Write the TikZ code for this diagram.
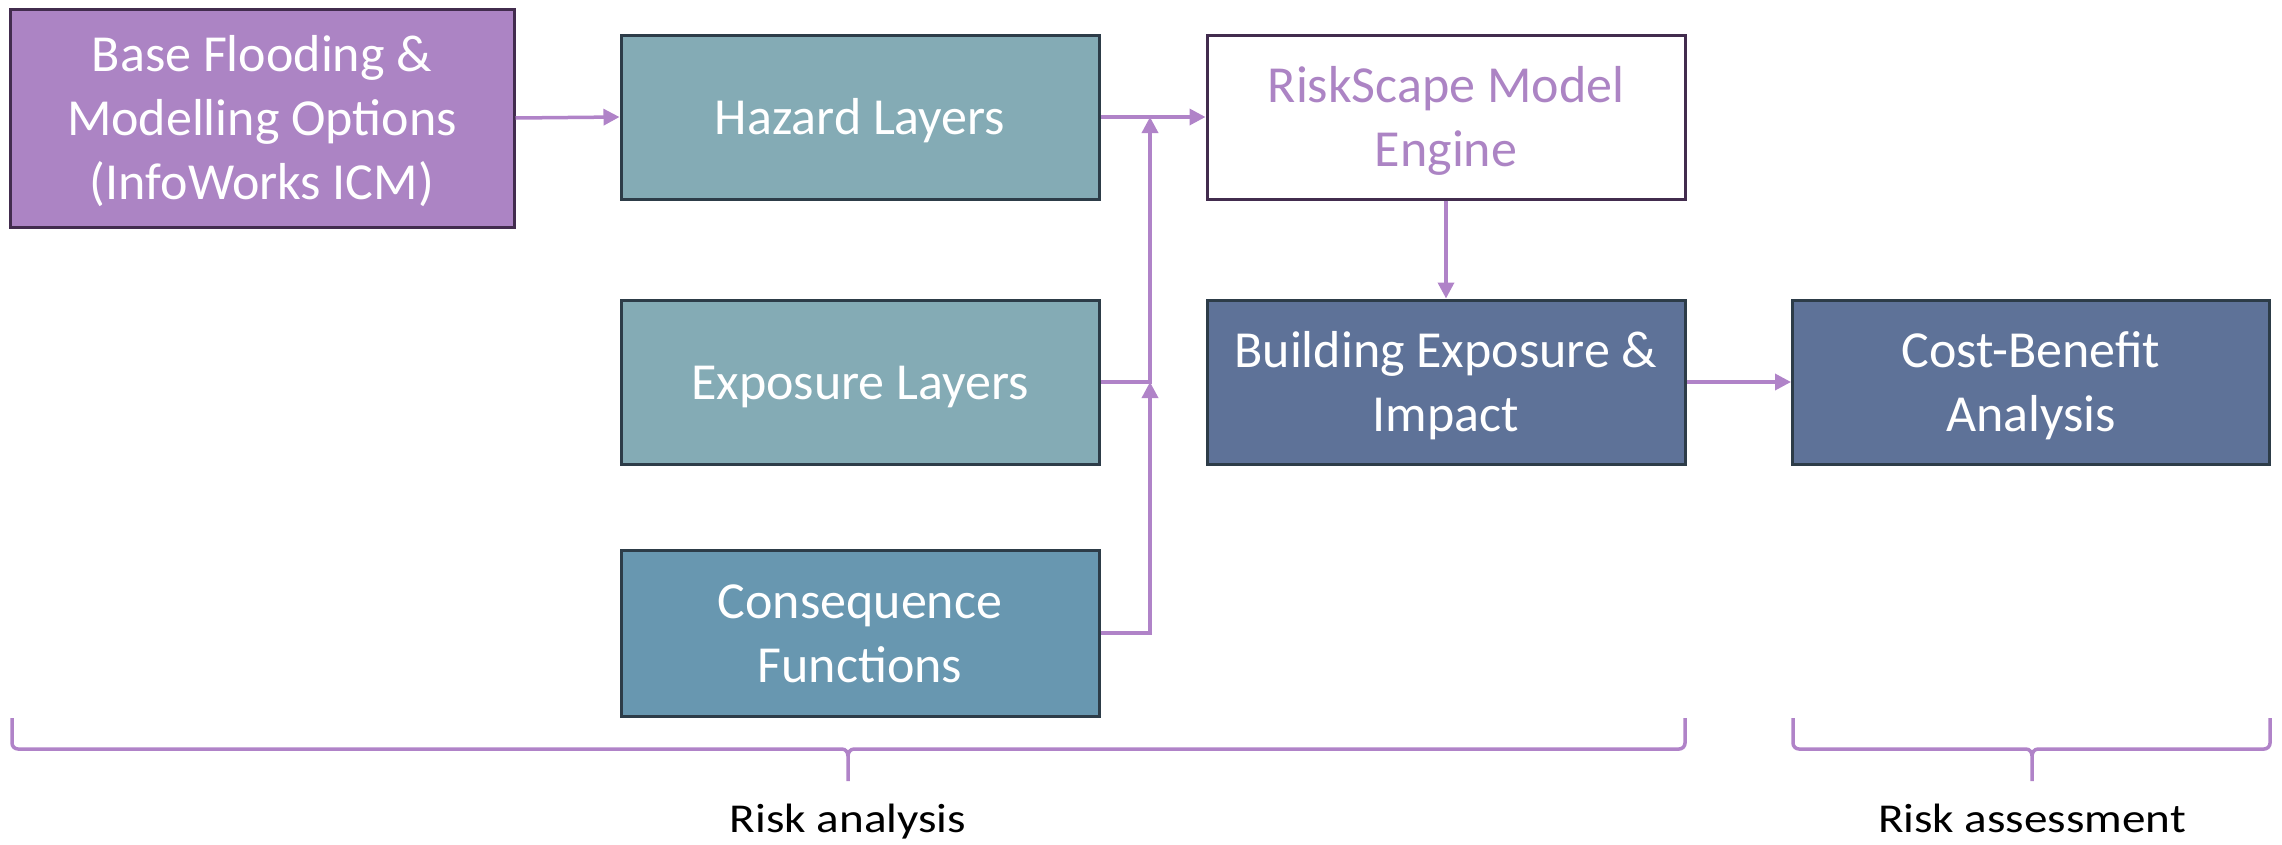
\documentclass[tikz,border=0pt]{standalone}
\usepackage{fontspec}
\usepackage{graphicx}
\setmainfont{Carlito}
\usetikzlibrary{arrows.meta}
\definecolor{cpurple}{RGB}{172,132,196}
\definecolor{cpurpledark}{RGB}{66,44,78}
\definecolor{cteal}{RGB}{132,171,181}
\definecolor{cteal2}{RGB}{104,151,176}
\definecolor{cblue}{RGB}{94,114,152}
\definecolor{cborder}{RGB}{45,60,72}
\definecolor{carrow}{RGB}{176,131,200}
\newcommand{\boxstrut}{\rule[-12pt]{0pt}{59pt}}
\tikzset{
  box/.style={draw=cborder, line width=3pt, text=white, align=center, inner sep=0pt,
    minimum width=478pt, minimum height=164pt,
    font=\fontsize{52}{64}\selectfont},
  arr/.style={draw=carrow, line width=3.5pt, -{Triangle[length=16pt,width=16pt]}},
  brace/.style={draw=carrow, line width=3.5pt},
  lbl/.style={anchor=base, font=\fontsize{41}{48}\selectfont, text=black, inner sep=0pt}
}
\begin{document}
\begin{tikzpicture}[x=1pt,y=-1pt]
\useasboundingbox (0,0) rectangle (2282,844);
\node[box, fill=cpurple, draw=cpurpledark, minimum width=504pt, minimum height=218pt] (base) at (262,118) {Base Flooding \&\boxstrut\\Modelling Options\boxstrut\\(InfoWorks ICM)\boxstrut};
\node[box, fill=cteal] (haz) at (860,117) {Hazard Layers\boxstrut};
\node[box, fill=white, draw=cpurpledark, text=cpurple] (rs) at (1446,117) {RiskScape Model\boxstrut\\Engine\boxstrut};
\node[box, fill=cteal] (exp) at (860,382) {Exposure Layers\boxstrut};
\node[box, fill=cblue] (bld) at (1446,382) {Building Exposure \&\boxstrut\\Impact\boxstrut};
\node[box, fill=cblue, minimum width=477pt] (cba) at (2031,382) {Cost-Benefit\boxstrut\\Analysis\boxstrut};
\node[box, fill=cteal2, minimum height=166pt] (con) at (860,633) {Consequence\boxstrut\\Functions\boxstrut};
\coordinate (jh) at (1150,117);
\coordinate (je) at (1150,382);
\draw[arr] (base.east) -- (haz.west);
\draw[arr] (haz.east) -- (rs.west);
\draw[arr] (exp.east) -| (jh);
\draw[arr] (con.east) -| (je);
\draw[arr] (rs.south) -- (bld.north);
\draw[arr] (bld.east) -- (cba.west);
\draw[brace] (12,718) -- (12,743) to[out=-90,in=180] (18,749) -- (842,749) to[out=0,in=90] (848,756) -- (848,781);
\draw[brace] (848,756) to[out=90,in=180] (854,749) -- (1679,749) to[out=0,in=-90] (1685,743) -- (1685,718);
\draw[brace] (1793,718) -- (1793,743) to[out=-90,in=180] (1799,749) -- (2026,749) to[out=0,in=90] (2032,756) -- (2032,781);
\draw[brace] (2032,756) to[out=90,in=180] (2038,749) -- (2264,749) to[out=0,in=-90] (2270,743) -- (2270,718);
\node[lbl] (ra) at (848,832) {\scalebox{1.15}[1]{Risk analysis}};
\node[lbl] (rass) at (2032,832) {\scalebox{1.15}[1]{Risk assessment}};
\end{tikzpicture}
\end{document}
